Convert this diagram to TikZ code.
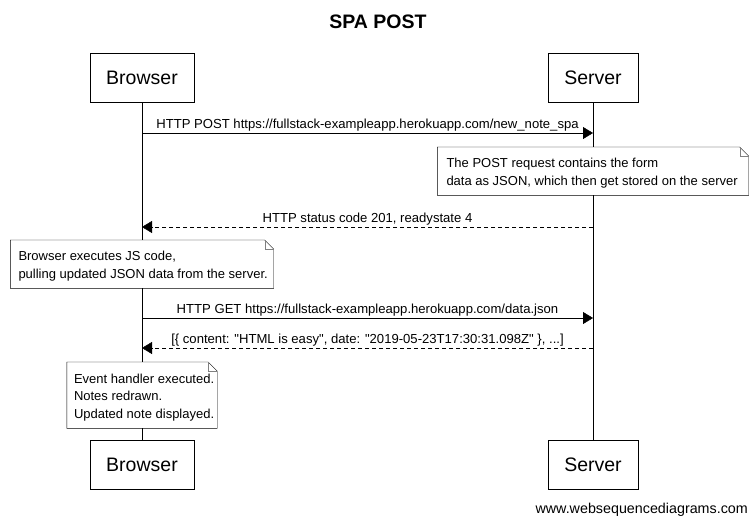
\documentclass[tikz,border=0pt]{standalone}
\usepackage{fontspec}
\setmainfont{Liberation Sans}
\newfontfamily\plainsans{Liberation Sans}
\usetikzlibrary{arrows.meta,positioning,calc}

\tikzset{
  actor/.style={draw, fill=white, minimum height=49pt, inner xsep=16pt,
    font=\fontsize{19.5}{22}\selectfont},
  msg/.style={-{Triangle[length=10pt,width=12pt]}},
  reply/.style={msg, dash pattern=on 4pt off 3pt},
  msglabel/.style={midway, above, inner sep=1.5pt, font=\plainsans\fontsize{13.1}{15}\selectfont},
  notebox/.style={anchor=north, fill=white, inner sep=0pt},
  notetext/.style={align=left, inner sep=0pt, yshift=-2pt, font=\fontsize{13}{17.5}\selectfont},
}
% note outline with folded corner
\newcommand{\dogear}[1]{%
  \draw (#1.north west) -- ([xshift=-9pt]#1.north east) -- ([yshift=-9pt]#1.north east)
    -- (#1.south east) -- (#1.south west) -- cycle;
  \draw[gray] ([xshift=-9pt]#1.north east) |- ([yshift=-9pt]#1.north east);
}

\begin{document}
\begin{tikzpicture}[x=1pt, y=-1pt]
    \useasboundingbox (0,0) rectangle (756,523);

    % Title
    \node[font=\bfseries\fontsize{19.5}{22}\selectfont] (title) at (378,22) {SPA POST};

    % Participants
    \node[actor] (bt) at (142,77.5) {Browser};
    \node[actor] (st) at (593,77.5) {Server};
    \node[actor] (bb) at (142,465) {Browser};
    \node[actor] (sb) at (593,465) {Server};

    % Lifelines
    \draw (bt.south) -- (bb.north);
    \draw (st.south) -- (sb.north);

    % Message points on the lifelines
    \foreach \i/\y in {1/133, 2/227, 3/318, 4/348} {
        \coordinate (b\i) at (bt.south |- 0,\y);
        \coordinate (s\i) at (st.south |- 0,\y);
    }

    % Messages
    \draw[msg] (b1) -- (s1)
        node[msglabel] {HTTP POST https://fullstack-exampleapp.herokuapp.com/new\_note\_spa};
    \draw[reply] (s2) -- (b2)
        node[msglabel] {HTTP status code 201, readystate 4};
    \draw[msg] (b3) -- (s3)
        node[msglabel] {HTTP GET https://fullstack-exampleapp.herokuapp.com/data.json};
    \draw[reply] (s4) -- (b4)
        node[msglabel] {[\{ content: "HTML is easy", date: "2019-05-23T17:30:31.098Z" \}, ...]};

    % Notes
    \node[notebox, minimum width=311pt, minimum height=48pt] (n1) at (st.south |- 0,147) {};
    \dogear{n1}
    \node[notetext, right=9pt of n1.west] (t1)
        {The POST request contains the form\\data as JSON, which then get stored on the server};

    \node[notebox, minimum width=263pt, minimum height=48pt] (n2) at (bt.south |- 0,240) {};
    \dogear{n2}
    \node[notetext, right=8pt of n2.west] (t2)
        {Browser executes JS code,\\pulling updated JSON data from the server.};

    \node[notebox, minimum width=150pt, minimum height=66pt] (n3) at (bt.south |- 0,362) {};
    \dogear{n3}
    \node[notetext, right=7pt of n3.west] (t3)
        {Event handler executed.\\Notes redrawn.\\Updated note displayed.};

    % Footer
    \node[anchor=base east, inner sep=0pt, font=\fontsize{14.3}{17}\selectfont]
        (site) at (748,513) {www.websequencediagrams.com};
\end{tikzpicture}
\end{document}
